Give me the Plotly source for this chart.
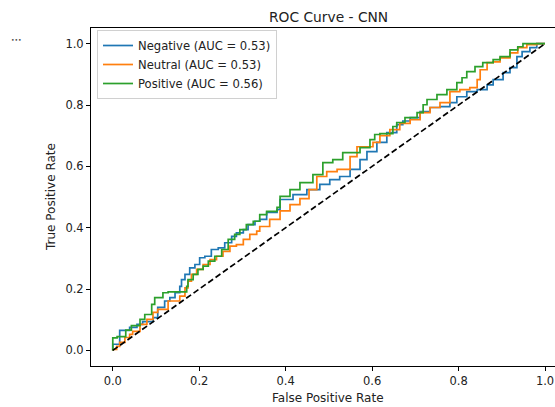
import plotly.graph_objects as go

# ---------------- data ----------------
neg_fpr = [0, 0.016, 0.039, 0.056, 0.069, 0.093, 0.104, 0.120, 0.132, 0.144, 0.155, 0.159, 0.167,
           0.178, 0.190, 0.201, 0.213, 0.228, 0.244, 0.259, 0.275, 0.286, 0.302, 0.313, 0.329,
           0.340, 0.356, 0.380, 0.387, 0.417, 0.449, 0.479, 0.502, 0.525, 0.549, 0.572, 0.588,
           0.611, 0.634, 0.657, 0.671, 0.688, 0.711, 0.734, 0.757, 0.780, 0.796, 0.819, 0.843,
           0.866, 0.880, 0.903, 0.919, 0.935, 0.947, 0.965, 0.981, 1.0]
neg_tpr = [0, 0.020, 0.065, 0.075, 0.085, 0.094, 0.107, 0.140, 0.161, 0.172, 0.188, 0.209, 0.231,
           0.248, 0.269, 0.280, 0.302, 0.307, 0.329, 0.334, 0.351, 0.372, 0.383, 0.394, 0.410,
           0.421, 0.427, 0.450, 0.459, 0.492, 0.508, 0.524, 0.541, 0.557, 0.567, 0.590, 0.622,
           0.648, 0.678, 0.710, 0.736, 0.748, 0.759, 0.779, 0.792, 0.795, 0.808, 0.827, 0.844,
           0.850, 0.866, 0.883, 0.906, 0.922, 0.958, 0.974, 0.987, 1.0]

neu_fpr = [0, 0.009, 0.016, 0.028, 0.039, 0.046, 0.063, 0.079, 0.093, 0.104, 0.128, 0.155, 0.167,
           0.174, 0.182, 0.194, 0.209, 0.225, 0.240, 0.255, 0.271, 0.286, 0.302, 0.317, 0.333,
           0.340, 0.363, 0.387, 0.410, 0.433, 0.454, 0.472, 0.495, 0.519, 0.549, 0.565, 0.576,
           0.602, 0.618, 0.641, 0.664, 0.688, 0.711, 0.734, 0.757, 0.780, 0.803, 0.826, 0.843,
           0.850, 0.866, 0.880, 0.896, 0.919, 0.937, 0.958, 0.981, 1.0]
neu_tpr = [0, 0.003, 0.013, 0.026, 0.042, 0.052, 0.062, 0.085, 0.101, 0.124, 0.134, 0.161, 0.177,
           0.204, 0.226, 0.248, 0.264, 0.280, 0.296, 0.307, 0.323, 0.340, 0.345, 0.362, 0.378,
           0.389, 0.404, 0.427, 0.455, 0.475, 0.495, 0.524, 0.567, 0.583, 0.590, 0.632, 0.664,
           0.664, 0.678, 0.700, 0.720, 0.740, 0.752, 0.775, 0.792, 0.808, 0.844, 0.850, 0.857,
           0.883, 0.915, 0.938, 0.941, 0.954, 0.970, 0.987, 0.997, 1.0]

pos_fpr = [0, 0.010, 0.030, 0.043, 0.063, 0.074, 0.090, 0.097, 0.116, 0.128, 0.171, 0.174, 0.186,
           0.197, 0.209, 0.221, 0.236, 0.252, 0.267, 0.282, 0.294, 0.309, 0.325, 0.340, 0.356,
           0.380, 0.387, 0.410, 0.433, 0.463, 0.486, 0.509, 0.532, 0.549, 0.572, 0.595, 0.606,
           0.618, 0.648, 0.657, 0.676, 0.704, 0.718, 0.727, 0.750, 0.773, 0.796, 0.808, 0.819,
           0.838, 0.856, 0.880, 0.896, 0.919, 0.937, 0.949, 0.972, 1.0]
pos_tpr = [0, 0.041, 0.045, 0.066, 0.081, 0.101, 0.117, 0.150, 0.172, 0.188, 0.191, 0.209, 0.231,
           0.248, 0.264, 0.275, 0.291, 0.307, 0.329, 0.362, 0.378, 0.394, 0.410, 0.421, 0.443,
           0.453, 0.466, 0.502, 0.524, 0.547, 0.573, 0.612, 0.622, 0.645, 0.645, 0.661, 0.687,
           0.704, 0.707, 0.730, 0.743, 0.759, 0.775, 0.801, 0.818, 0.834, 0.850, 0.873, 0.889,
           0.909, 0.925, 0.938, 0.948, 0.958, 0.980, 0.990, 1.0, 1.0]

chance_x = [0, 1]
chance_y = [0, 1]

series_names = ["Negative (AUC = 0.53)", "Neutral (AUC = 0.53)", "Positive (AUC = 0.56)"]
tick_vals = [0.0, 0.2, 0.4, 0.6, 0.8, 1.0]
tick_text = ["0.0", "0.2", "0.4", "0.6", "0.8", "1.0"]

# ---------------- figure ----------------
FONT = "DejaVu Sans"
colors = ["#1f77b4", "#ff7f0e", "#2ca02c"]

fig = go.Figure()
for (xs, ys), name, c in zip([(neg_fpr, neg_tpr), (neu_fpr, neu_tpr), (pos_fpr, pos_tpr)],
                             series_names, colors):
    fig.add_trace(go.Scatter(x=xs, y=ys, mode="lines", name=name,
                             line=dict(color=c, width=1.7, shape="vh")))
fig.add_trace(go.Scatter(x=chance_x, y=chance_y, mode="lines", showlegend=False,
                         line=dict(color="black", width=1.7, dash="6px,3px")))

W, H = 555, 407
ml, mr, mt, mb = 91, 0, 28, 41

axis_common = dict(showgrid=False, zeroline=False, showline=True, linecolor="black",
                   linewidth=1, ticks="outside", ticklen=4, tickwidth=1, tickcolor="black",
                   tickvals=tick_vals, ticktext=tick_text,
                   tickfont=dict(family=FONT, size=11.5, color="#222"))

fig.update_layout(
    width=W, height=H,
    margin=dict(l=ml, r=mr, t=mt, b=mb, pad=0),
    paper_bgcolor="white", plot_bgcolor="white",
    font=dict(family=FONT, color="#222"),
    xaxis=dict(range=[-0.0504, 1.0231], mirror=True, **axis_common),
    yaxis=dict(range=[-0.0509, 1.0512], mirror=False, **axis_common),
    legend=dict(x=(97 - ml) / (W - ml - mr), y=(H - mb - 30) / (H - mt - mb),
                xanchor="left", yanchor="top",
                bgcolor="rgba(255,255,255,0.85)", bordercolor="#d0d0d0", borderwidth=1,
                font=dict(family=FONT, size=11.6, color="#222"), itemwidth=30,
                tracegroupgap=0),
    showlegend=True,
)

fig.add_annotation(text="ROC Curve - CNN", xref="paper", yref="paper",
                   x=(328 - ml) / (W - ml - mr), y=(H - mb - 17) / (H - mt - mb),
                   showarrow=False, xanchor="center", yanchor="middle",
                   font=dict(family=FONT, size=13.8, color="#222"))
fig.add_annotation(text="False Positive Rate", xref="paper", yref="paper",
                   x=(328 - ml) / (W - ml - mr), y=(H - mb - 398) / (H - mt - mb),
                   showarrow=False, xanchor="center", yanchor="middle",
                   font=dict(family=FONT, size=12, color="#222"))
fig.add_annotation(text="True Positive Rate", xref="paper", yref="paper",
                   x=(51 - ml) / (W - ml - mr), y=(H - mb - 197) / (H - mt - mb),
                   showarrow=False, xanchor="center", yanchor="middle", textangle=-90,
                   font=dict(family=FONT, size=12, color="#222"))
fig.add_annotation(text="•••", xref="paper", yref="paper",
                   x=(16 - ml) / (W - ml - mr), y=(H - mb - 40) / (H - mt - mb),
                   showarrow=False, xanchor="center", yanchor="middle",
                   font=dict(family=FONT, size=6, color="#444"))

fig.write_html("out.html")
